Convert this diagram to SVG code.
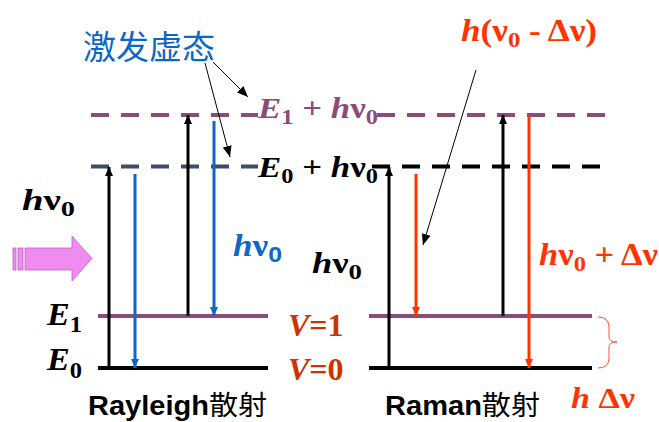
<svg xmlns="http://www.w3.org/2000/svg" width="659" height="422" viewBox="0 0 659 422">
<style>
.t{font-family:"Liberation Serif","Times New Roman",serif;font-weight:bold;}
.i{font-style:italic;}
.s{font-family:"Liberation Sans",Arial,"Noto Sans CJK SC",sans-serif;font-weight:bold;}
.cjk{font-family:"Noto Sans CJK SC",sans-serif;}
.lvl{stroke-width:4;fill:none;}
.dash{stroke-width:4;stroke-dasharray:18 12;fill:none;}
.v{stroke-width:3;fill:none;}
.ann{stroke:#000;stroke-width:1;fill:none;}
</style>
<defs>
<marker id="ak" markerUnits="userSpaceOnUse" markerWidth="10" markerHeight="10" refX="9" refY="5" orient="auto"><path d="M0,1 L9,5 L0,9 Z" fill="#000"/></marker>
<marker id="ab" markerUnits="userSpaceOnUse" markerWidth="10" markerHeight="10" refX="9" refY="5" orient="auto"><path d="M0,1 L9,5 L0,9 Z" fill="#0b68c8"/></marker>
<marker id="ar" markerUnits="userSpaceOnUse" markerWidth="10" markerHeight="10" refX="9" refY="5" orient="auto"><path d="M0,1 L9,5 L0,9 Z" fill="#ff3300"/></marker>
<marker id="at" markerUnits="userSpaceOnUse" markerWidth="12" markerHeight="12" refX="11" refY="6" orient="auto"><path d="M0,1.5 L11,6 L0,10.5 Z" fill="#000"/></marker>
</defs>
<rect width="659" height="422" fill="#fff"/>

<g id="levels">
<path class="dash" stroke="#8b4d78" d="M91,115 H258"/>
<path class="dash" stroke="#8b4d78" d="M377,115 H616"/>
<path class="dash" stroke="#3d4d66" d="M91,166.5 H258"/>
<path class="dash" stroke="#000" d="M372,166.5 H600"/>
<path class="lvl" stroke="#8b4d78" d="M98,316 H268 M369,316 H592"/>
<path class="lvl" stroke="#000" d="M98,368 H268 M369,368 H592"/>
</g>

<g id="connectors">
<path class="v" stroke="#000" d="M109,368 V167" marker-end="url(#ak)"/>
<path class="v" stroke="#0b68c8" d="M135,174 V368" marker-end="url(#ab)"/>
<path class="v" stroke="#000" d="M188,316 V115" marker-end="url(#ak)"/>
<path class="v" stroke="#0b68c8" d="M214,121 V316" marker-end="url(#ab)"/>
<path class="v" stroke="#000" d="M389,368 V167" marker-end="url(#ak)"/>
<path class="v" stroke="#ff3300" d="M416,174 V316" marker-end="url(#ar)"/>
<path class="v" stroke="#000" d="M503,316 V115" marker-end="url(#ak)"/>
<path class="v" stroke="#ff3300" d="M529,115 V368" marker-end="url(#ar)"/>
<path class="ann" d="M213,62 L248,97" marker-end="url(#at)"/>
<path class="ann" d="M205,63 L230,157" marker-end="url(#at)"/>
<path class="ann" d="M476,70 L423,245" marker-end="url(#at)"/>
<path d="M598,317 Q609,317 609,327 V337 Q609,342 617,342 Q609,342 609,347 V358 Q609,368 598,368" fill="none" stroke="#ff5533" stroke-width="1"/>
</g>

<g id="incident">
<rect x="13" y="248" width="3" height="22" fill="#f08cf0" stroke="#c060c0" stroke-width="0.8"/>
<rect x="18" y="248" width="5" height="22" fill="#f08cf0" stroke="#c060c0" stroke-width="0.8"/>
<path d="M25,248 H72 V236 L92,258.5 L72,281 V270 H25 Z" fill="#f08cf0" stroke="#c060c0" stroke-width="0.8"/>
</g>

<g id="labels">
<text x="83" y="59" class="cjk" font-size="33" fill="#0b68c8">激发虚态</text>
<text x="258" y="118" class="t" font-size="30" fill="#8b4d78" textLength="120" lengthAdjust="spacingAndGlyphs"><tspan class="i">E</tspan><tspan font-size="21" dy="6">1</tspan><tspan dy="-6"> + </tspan><tspan class="i">h</tspan>ν<tspan font-size="21" dy="6">0</tspan></text>
<text x="258" y="177" class="t" font-size="30" fill="#000" textLength="120" lengthAdjust="spacingAndGlyphs"><tspan class="i">E</tspan><tspan font-size="21" dy="6">0</tspan><tspan dy="-6"> + </tspan><tspan class="i">h</tspan>ν<tspan font-size="21" dy="6">0</tspan></text>
<text x="461" y="41" class="t" font-size="31" fill="#ff3300" textLength="136" lengthAdjust="spacingAndGlyphs"><tspan class="i">h</tspan>(ν<tspan font-size="22" dy="6">0</tspan><tspan dy="-6"> - Δν)</tspan></text>
<text x="22" y="210" class="t" font-size="30" fill="#000" textLength="53" lengthAdjust="spacingAndGlyphs"><tspan class="i">h</tspan>ν<tspan font-size="22" dy="6">0</tspan></text>
<text x="233" y="256" class="t" font-size="31" fill="#0b68c8" textLength="49" lengthAdjust="spacingAndGlyphs"><tspan class="i">h</tspan>ν<tspan class="s" font-size="22" dy="6">0</tspan></text>
<text x="312" y="273" class="t" font-size="30" fill="#000" textLength="50" lengthAdjust="spacingAndGlyphs"><tspan class="i">h</tspan>ν<tspan font-size="22" dy="6">0</tspan></text>
<text x="539" y="265" class="t" font-size="31" fill="#ff3300" textLength="119" lengthAdjust="spacingAndGlyphs"><tspan class="i">h</tspan>ν<tspan font-size="22" dy="6">0</tspan><tspan dy="-6"> + Δν</tspan></text>
<text x="47" y="325" class="t" font-size="32" fill="#000" textLength="35" lengthAdjust="spacingAndGlyphs"><tspan class="i">E</tspan><tspan font-size="23" dy="7">1</tspan></text>
<text x="47" y="370" class="t" font-size="32" fill="#000" textLength="35" lengthAdjust="spacingAndGlyphs"><tspan class="i">E</tspan><tspan font-size="23" dy="8">0</tspan></text>
<text x="288" y="336" class="t" font-size="32" fill="#cc3300"><tspan class="i">V</tspan>=1</text>
<text x="288" y="380" class="t" font-size="32" fill="#cc3300"><tspan class="i">V</tspan>=0</text>
<text x="571" y="408" class="t" font-size="30" fill="#ff3300" textLength="64" lengthAdjust="spacingAndGlyphs"><tspan class="i">h</tspan> Δν</text>
<text x="88" y="415" class="s" font-size="27" fill="#000" textLength="179" lengthAdjust="spacingAndGlyphs">Rayleigh<tspan class="cjk" font-weight="normal">散射</tspan></text>
<text x="385" y="415" class="s" font-size="27" fill="#000" textLength="155" lengthAdjust="spacingAndGlyphs">Raman<tspan class="cjk" font-weight="normal">散射</tspan></text>
</g>
</svg>
